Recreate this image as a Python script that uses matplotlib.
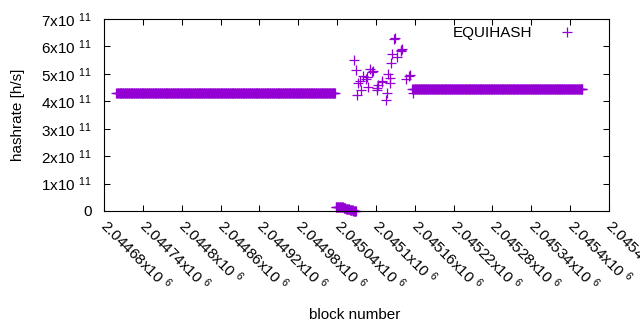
import numpy as np
import matplotlib
matplotlib.use('Agg')
import matplotlib.pyplot as plt
from matplotlib.ticker import FuncFormatter, MultipleLocator

plt.rcParams['font.family'] = ['Liberation Sans', 'DejaVu Sans']
plt.rcParams['mathtext.fontset'] = 'custom'
plt.rcParams['mathtext.rm'] = 'Liberation Sans'
plt.rcParams['mathtext.it'] = 'Liberation Sans'

COLOR = '#9400D3'

# steady runs: (first block, last block, hashrate)
flat_runs = [
    (2044699, 2045037, 4.29e11),
    (2045158, 2045419, 4.43e11),
]

# hashrate collapse right after the first run
drop_blocks = list(range(2045038, 2045070))
drop_values = [1.45e10, 1.42e10, 1.40e10, 1.44e10, 1.38e10, 1.41e10, 1.36e10, 1.39e10,
               1.35e10, 1.37e10, 1.33e10, 1.30e10, 1.20e10, 1.12e10, 1.05e10, 0.98e10,
               0.90e10, 0.85e10, 0.78e10, 0.70e10, 0.64e10, 0.56e10, 0.50e10, 0.42e10,
               0.36e10, 0.30e10, 0.24e10, 0.18e10, 0.12e10, 0.08e10, 0.04e10, 0.0]

# scattered blocks during the transition
scatter_blocks = [2045128, 2045129, 2045139, 2045140, 2045138, 2045125, 2045133, 2045123,
                  2045066, 2045069, 2045094, 2045095, 2045091, 2045080, 2045086, 2045085,
                  2045075, 2045072, 2045119, 2045122, 2045151, 2045152, 2045146, 2045109,
                  2045110, 2045103, 2045121, 2045157, 2045156, 2045077, 2045071, 2045117,
                  2045115, 2045088, 2045102, 2045101]
scatter_values = [6.27e11, 6.30e11, 5.87e11, 5.90e11, 5.84e11, 5.72e11, 5.61e11, 5.40e11,
                  5.50e11, 5.14e11, 5.07e11, 5.12e11, 5.18e11, 4.92e11, 4.89e11, 4.80e11,
                  4.74e11, 4.67e11, 4.99e11, 4.85e11, 4.92e11, 4.96e11, 4.81e11, 4.70e11,
                  4.75e11, 4.59e11, 4.67e11, 4.30e11, 4.45e11, 4.41e11, 4.23e11, 4.30e11,
                  4.05e11, 4.52e11, 4.48e11, 4.41e11]

blocks = []
values = []
for start, end, v in flat_runs:
    for b in range(start, end + 1):
        blocks.append(b)
        values.append(v)
blocks += drop_blocks + scatter_blocks
values += drop_values + scatter_values

fig = plt.figure(figsize=(6.4, 3.3), dpi=100)
ax = fig.add_axes([104 / 640, 1 - 211 / 330, (609 - 104) / 640, (211 - 19) / 330])

ax.plot(blocks, values, linestyle='none', marker='+', ms=6.5, mew=0.9, color=COLOR,
        label='EQUIHASH', clip_on=False)

ax.set_xlim(2044680, 2045460)
ax.set_ylim(0, 7e11)
ax.xaxis.set_major_locator(MultipleLocator(60))
ax.yaxis.set_major_locator(MultipleLocator(1e11))
ax.xaxis.set_major_formatter(FuncFormatter(lambda v, p: f"{v / 1e6:g}x10 $^{{6}}$"))
ax.yaxis.set_major_formatter(FuncFormatter(
    lambda v, p: '0' if v == 0 else f"{int(round(v / 1e11))}x10 $^{{11}}$"))

ax.tick_params(direction='in', length=4.5, width=0.75, top=True, right=True,
               labelsize=11, colors='black')
ax.tick_params(axis='y', pad=9)
ax.tick_params(axis='x', pad=8)
for lbl in ax.get_xticklabels():
    lbl.set_rotation(-45)
    lbl.set_ha('left')
    lbl.set_va('center')
    lbl.set_rotation_mode('anchor')
for s in ax.spines.values():
    s.set_linewidth(0.8)

fig.text(18 / 640, 1 - 115 / 330, 'hashrate [h/s]', rotation=90, ha='center', va='center',
         fontsize=11)
fig.text(355 / 640, 1 - 315 / 330, 'block number', ha='center', va='center', fontsize=11)

ax.legend(loc='upper right', bbox_to_anchor=(0.976, 1.02), frameon=False, markerfirst=False,
          fontsize=11, handlelength=2.5, handletextpad=1.0, borderaxespad=0.3)

fig.savefig('out.png', dpi=100)
